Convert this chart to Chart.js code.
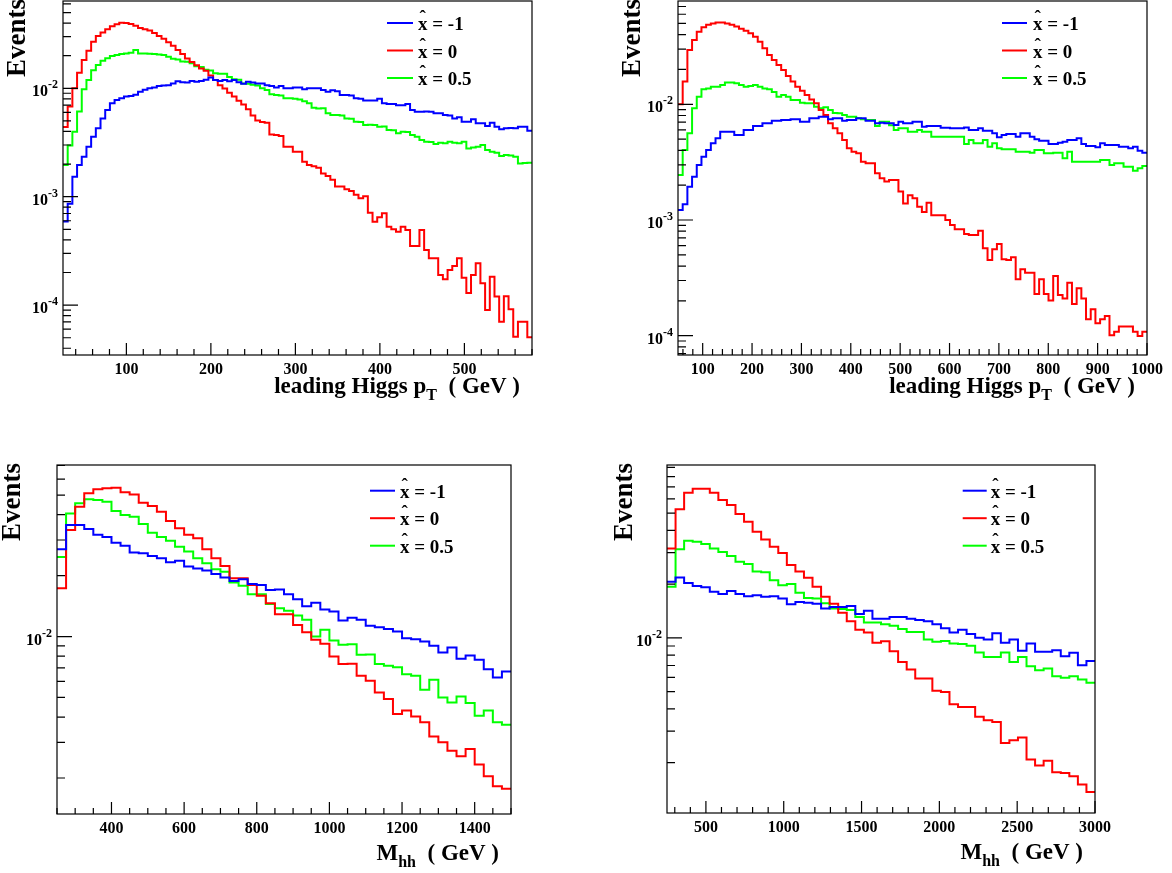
<!DOCTYPE html>
<html>
<head>
<meta charset="utf-8">
<title>Leading Higgs pT and Mhh</title>
<script src="https://cdn.jsdelivr.net/npm/chart.js@4.4.0/dist/chart.umd.min.js"></script>
<style>
  body { margin: 0; background: #fff; }
  #wrap { position: relative; width: 1172px; height: 873px; overflow: hidden; }
  canvas { position: absolute; }
</style>
</head>
<body>
<div id="wrap">
  <canvas id="c1" width="586" height="436" style="left:0px;top:0px"></canvas>
  <canvas id="c2" width="586" height="436" style="left:586px;top:0px"></canvas>
  <canvas id="c3" width="586" height="437" style="left:0px;top:436px"></canvas>
  <canvas id="c4" width="586" height="437" style="left:586px;top:436px"></canvas>
</div>
<script>
var SERIF = '"Liberation Serif", "DejaVu Serif", serif';

// legend text and line colours, same order in every plot
var xhatLabels = ['-1', '0', '0.5'];
var colours = ['#0000ff', '#ff0000', '#00ff00'];

// ---- leading Higgs pT, left plot (100 bins) ----
var pt1Range = [25, 580];
var pt1Blue = [5.9e-4, 8.6e-4, 1.53e-3, 1.96e-3, 2.34e-3, 2.89e-3, 3.58e-3, 4.28e-3, 5.28e-3, 6.3e-3,
  7.3e-3, 7.8e-3, 8.1e-3, 8.4e-3, 8.5e-3, 8.7e-3, 9.3e-3, 9.7e-3, 1.0e-2, 1.02e-2,
  1.05e-2, 1.06e-2, 1.07e-2, 1.11e-2, 1.16e-2, 1.14e-2, 1.13e-2, 1.17e-2, 1.15e-2, 1.17e-2,
  1.2e-2, 1.26e-2, 1.19e-2, 1.17e-2, 1.19e-2, 1.16e-2, 1.19e-2, 1.14e-2, 1.1e-2, 1.15e-2,
  1.13e-2, 1.11e-2, 1.11e-2, 1.07e-2, 1.05e-2, 1.02e-2, 1.05e-2, 1.0e-2, 1.0e-2, 1.02e-2,
  1.02e-2, 9.8e-3, 1.0e-2, 1.0e-2, 1.0e-2, 9.64e-3, 9.3e-3, 9.6e-3, 9.4e-3, 8.67e-3,
  8.67e-3, 8.6e-3, 8.09e-3, 8.0e-3, 7.7e-3, 7.7e-3, 7.7e-3, 8.0e-3, 7.28e-3, 7.16e-3,
  7.16e-3, 6.97e-3, 6.97e-3, 7.16e-3, 6.31e-3, 6.08e-3, 6.08e-3, 6.1e-3, 6.08e-3, 5.88e-3,
  5.88e-3, 5.67e-3, 5.6e-3, 5.28e-3, 5.4e-3, 4.92e-3, 4.92e-3, 5.18e-3, 4.76e-3, 4.76e-3,
  4.49e-3, 4.82e-3, 4.43e-3, 4.19e-3, 4.28e-3, 4.3e-3, 4.28e-3, 4.43e-3, 4.43e-3, 4.06e-3];
var pt1Red = [4.4e-3, 6.8e-3, 1.0e-2, 1.39e-2, 1.82e-2, 2.22e-2, 2.69e-2, 3.04e-2, 3.28e-2, 3.5e-2,
  3.73e-2, 3.9e-2, 4.03e-2, 4.0e-2, 3.93e-2, 3.78e-2, 3.6e-2, 3.5e-2, 3.41e-2, 3.24e-2,
  3.04e-2, 2.86e-2, 2.66e-2, 2.47e-2, 2.26e-2, 2.07e-2, 1.88e-2, 1.75e-2, 1.63e-2, 1.52e-2,
  1.45e-2, 1.31e-2, 1.19e-2, 1.07e-2, 9.97e-3, 9.1e-3, 8.4e-3, 7.66e-3, 7.1e-3, 6.4e-3,
  5.6e-3, 5.05e-3, 4.9e-3, 4.8e-3, 3.75e-3, 3.7e-3, 3.63e-3, 2.89e-3, 2.89e-3, 2.6e-3,
  2.6e-3, 2.1e-3, 1.96e-3, 1.91e-3, 1.85e-3, 1.64e-3, 1.55e-3, 1.43e-3, 1.24e-3, 1.24e-3,
  1.17e-3, 1.13e-3, 1.04e-3, 9.66e-4, 1.01e-3, 7.12e-4, 5.88e-4, 6.46e-4, 7.03e-4, 5.29e-4,
  5.0e-4, 4.75e-4, 5.29e-4, 4.93e-4, 3.51e-4, 3.51e-4, 4.93e-4, 3.22e-4, 2.7e-4, 2.7e-4,
  1.9e-4, 1.73e-4, 2.11e-4, 2.3e-4, 2.7e-4, 1.79e-4, 1.29e-4, 1.9e-4, 2.43e-4, 1.59e-4,
  9.0e-5, 1.83e-4, 1.2e-4, 7.03e-5, 1.21e-4, 9.14e-5, 5.1e-5, 7.03e-5, 7.03e-5, 5.05e-5];
var pt1Green = [1.96e-3, 2.96e-3, 3.98e-3, 6.1e-3, 9.8e-3, 1.19e-2, 1.47e-2, 1.64e-2, 1.8e-2, 1.89e-2,
  1.99e-2, 2.03e-2, 2.07e-2, 2.1e-2, 2.13e-2, 2.26e-2, 2.1e-2, 2.1e-2, 2.08e-2, 2.07e-2,
  2.05e-2, 2.03e-2, 1.96e-2, 1.87e-2, 1.84e-2, 1.77e-2, 1.76e-2, 1.7e-2, 1.6e-2, 1.57e-2,
  1.48e-2, 1.46e-2, 1.38e-2, 1.36e-2, 1.36e-2, 1.27e-2, 1.21e-2, 1.2e-2, 1.11e-2, 1.1e-2,
  1.08e-2, 1.06e-2, 1.0e-2, 9.64e-3, 8.8e-3, 8.67e-3, 8.6e-3, 8.1e-3, 8.1e-3, 8.0e-3,
  7.9e-3, 7.6e-3, 7.27e-3, 6.6e-3, 6.5e-3, 6.54e-3, 5.88e-3, 5.67e-3, 5.67e-3, 5.6e-3,
  5.28e-3, 5.25e-3, 4.92e-3, 4.9e-3, 4.58e-3, 4.6e-3, 4.58e-3, 4.43e-3, 4.45e-3, 4.12e-3,
  4.1e-3, 3.85e-3, 3.98e-3, 3.95e-3, 3.7e-3, 3.58e-3, 3.33e-3, 3.21e-3, 3.2e-3, 3.06e-3,
  3.15e-3, 3.12e-3, 3.21e-3, 3.15e-3, 3.12e-3, 3.21e-3, 2.79e-3, 2.85e-3, 2.89e-3, 3.0e-3,
  2.7e-3, 2.6e-3, 2.55e-3, 2.37e-3, 2.42e-3, 2.4e-3, 2.34e-3, 2.03e-3, 2.05e-3, 2.06e-3];

// ---- leading Higgs pT, right plot (100 bins) ----
var pt2Range = [50, 1000];
var pt2Blue = [1.22e-3, 1.37e-3, 1.94e-3, 2.37e-3, 2.99e-3, 3.52e-3, 4.03e-3, 4.6e-3, 5.08e-3, 5.8e-3,
  5.8e-3, 5.8e-3, 5.43e-3, 5.43e-3, 6.0e-3, 6.0e-3, 6.49e-3, 6.49e-3, 6.85e-3, 6.85e-3,
  7.22e-3, 7.22e-3, 7.32e-3, 7.32e-3, 7.42e-3, 7.42e-3, 7.08e-3, 7.08e-3, 7.57e-3, 7.57e-3,
  7.82e-3, 7.82e-3, 7.42e-3, 7.57e-3, 7.57e-3, 7.22e-3, 7.32e-3, 7.32e-3, 7.57e-3, 7.57e-3,
  7.22e-3, 7.22e-3, 6.85e-3, 6.93e-3, 6.85e-3, 6.85e-3, 6.62e-3, 7.08e-3, 6.85e-3, 6.85e-3,
  7.08e-3, 7.08e-3, 6.4e-3, 6.49e-3, 6.49e-3, 6.49e-3, 6.28e-3, 6.28e-3, 6.2e-3, 6.2e-3,
  6.2e-3, 6.3e-3, 6.0e-3, 6.0e-3, 6.2e-3, 5.91e-3, 5.91e-3, 5.61e-3, 5.19e-3, 5.43e-3,
  5.53e-3, 5.53e-3, 5.25e-3, 5.61e-3, 5.61e-3, 5.25e-3, 4.98e-3, 4.85e-3, 4.85e-3, 4.54e-3,
  4.54e-3, 4.66e-3, 4.75e-3, 4.91e-3, 4.91e-3, 5.08e-3, 4.54e-3, 4.36e-3, 4.36e-3, 4.25e-3,
  4.6e-3, 4.45e-3, 4.45e-3, 4.45e-3, 4.3e-3, 4.3e-3, 4.17e-3, 4.3e-3, 3.97e-3, 3.82e-3];
var pt2Red = [1.0e-2, 1.57e-2, 2.94e-2, 3.59e-2, 4.24e-2, 4.63e-2, 4.88e-2, 5.0e-2, 5.08e-2, 5.08e-2,
  5.0e-2, 4.88e-2, 4.7e-2, 4.5e-2, 4.33e-2, 4.11e-2, 3.84e-2, 3.47e-2, 3.05e-2, 2.67e-2,
  2.41e-2, 2.19e-2, 1.98e-2, 1.76e-2, 1.57e-2, 1.42e-2, 1.31e-2, 1.2e-2, 1.1e-2, 1.02e-2,
  8.93e-3, 8.08e-3, 6.85e-3, 6.2e-3, 5.61e-3, 4.92e-3, 4.17e-3, 3.89e-3, 3.77e-3, 3.19e-3,
  3.09e-3, 3.09e-3, 2.53e-3, 2.29e-3, 2.15e-3, 2.22e-3, 2.22e-3, 1.76e-3, 1.39e-3, 1.64e-3,
  1.54e-3, 1.3e-3, 1.17e-3, 1.41e-3, 1.1e-3, 1.1e-3, 1.1e-3, 1.0e-3, 9.05e-4, 8.31e-4,
  8.31e-4, 7.57e-4, 7.42e-4, 7.42e-4, 8.09e-4, 5.69e-4, 4.51e-4, 5.58e-4, 6.2e-4, 4.57e-4,
  4.51e-4, 4.76e-4, 3.07e-4, 3.75e-4, 3.5e-4, 3.5e-4, 2.29e-4, 3.07e-4, 2.29e-4, 2.01e-4,
  3.28e-4, 2.25e-4, 2.1e-4, 2.87e-4, 1.88e-4, 2.57e-4, 2.1e-4, 1.39e-4, 1.69e-4, 1.28e-4,
  1.39e-4, 1.48e-4, 1.01e-4, 1.08e-4, 1.2e-4, 1.2e-4, 1.2e-4, 1.08e-4, 9.94e-5, 1.08e-4];
var pt2Green = [2.45e-3, 4.03e-3, 5.61e-3, 9.23e-3, 1.16e-2, 1.35e-2, 1.37e-2, 1.42e-2, 1.42e-2, 1.47e-2,
  1.54e-2, 1.54e-2, 1.52e-2, 1.47e-2, 1.42e-2, 1.44e-2, 1.47e-2, 1.42e-2, 1.37e-2, 1.35e-2,
  1.28e-2, 1.16e-2, 1.2e-2, 1.16e-2, 1.09e-2, 1.09e-2, 1.03e-2, 1.02e-2, 1.02e-2, 9.53e-3,
  9.23e-3, 9.42e-3, 8.93e-3, 8.4e-3, 8.36e-3, 8.09e-3, 7.82e-3, 7.82e-3, 7.57e-3, 7.42e-3,
  7.32e-3, 7.32e-3, 6.49e-3, 7.08e-3, 7.08e-3, 6.6e-3, 6.0e-3, 6.2e-3, 6.2e-3, 5.8e-3,
  5.8e-3, 6.0e-3, 5.8e-3, 5.8e-3, 5.25e-3, 5.25e-3, 5.25e-3, 5.25e-3, 5.25e-3, 5.25e-3,
  5.25e-3, 4.54e-3, 4.91e-3, 4.6e-3, 4.6e-3, 4.91e-3, 4.3e-3, 4.6e-3, 4.17e-3, 4.08e-3,
  4.08e-3, 4.08e-3, 3.89e-3, 3.89e-3, 3.89e-3, 3.82e-3, 4.03e-3, 4.03e-3, 3.77e-3, 3.77e-3,
  3.82e-3, 3.82e-3, 3.41e-3, 3.89e-3, 3.19e-3, 3.19e-3, 3.19e-3, 3.19e-3, 3.19e-3, 3.19e-3,
  3.3e-3, 3.3e-3, 2.99e-3, 3.09e-3, 3.09e-3, 2.89e-3, 2.89e-3, 2.67e-3, 2.8e-3, 2.93e-3];

// ---- Mhh, left plot (50 bins) ----
var mhh1Range = [250, 1500];
var mhh1Blue = [2.7e-2, 3.56e-2, 3.56e-2, 3.4e-2, 3.18e-2, 3.1e-2, 2.91e-2, 2.81e-2, 2.6e-2, 2.58e-2,
  2.5e-2, 2.44e-2, 2.33e-2, 2.37e-2, 2.22e-2, 2.17e-2, 2.12e-2, 2.04e-2, 1.96e-2, 1.88e-2,
  1.92e-2, 1.82e-2, 1.8e-2, 1.7e-2, 1.71e-2, 1.62e-2, 1.53e-2, 1.41e-2, 1.47e-2, 1.36e-2,
  1.33e-2, 1.2e-2, 1.24e-2, 1.21e-2, 1.13e-2, 1.11e-2, 1.09e-2, 1.06e-2, 9.82e-3, 9.7e-3,
  9.45e-3, 9.0e-3, 8.34e-3, 8.83e-3, 7.76e-3, 8.05e-3, 7.67e-3, 6.9e-3, 6.28e-3, 6.72e-3];
var mhh1Red = [1.73e-2, 3.36e-2, 4.38e-2, 5.1e-2, 5.34e-2, 5.4e-2, 5.44e-2, 5.16e-2, 5.04e-2, 4.58e-2,
  4.42e-2, 4.14e-2, 3.72e-2, 3.43e-2, 3.18e-2, 3.06e-2, 2.7e-2, 2.44e-2, 2.23e-2, 1.94e-2,
  1.94e-2, 1.8e-2, 1.59e-2, 1.46e-2, 1.29e-2, 1.29e-2, 1.14e-2, 1.05e-2, 9.63e-3, 9.2e-3,
  7.97e-3, 7.31e-3, 7.33e-3, 6.4e-3, 6.04e-3, 5.29e-3, 4.91e-3, 4.14e-3, 4.31e-3, 4.03e-3,
  3.77e-3, 3.21e-3, 3.0e-3, 2.73e-3, 2.56e-3, 2.78e-3, 2.33e-3, 2.04e-3, 1.82e-3, 1.77e-3];
var mhh1Green = [2.47e-2, 4.06e-2, 4.55e-2, 4.77e-2, 4.73e-2, 4.64e-2, 4.17e-2, 3.99e-2, 3.91e-2, 3.6e-2,
  3.26e-2, 3.1e-2, 2.97e-2, 2.78e-2, 2.63e-2, 2.44e-2, 2.3e-2, 2.15e-2, 2.09e-2, 1.85e-2,
  1.78e-2, 1.62e-2, 1.62e-2, 1.45e-2, 1.38e-2, 1.34e-2, 1.27e-2, 1.21e-2, 1.0e-2, 1.08e-2,
  9.56e-3, 9.1e-3, 9.15e-3, 8.12e-3, 8.15e-3, 7.31e-3, 7.17e-3, 7.06e-3, 6.52e-3, 6.4e-3,
  5.46e-3, 6.11e-3, 5.0e-3, 4.72e-3, 5.06e-3, 4.69e-3, 4.06e-3, 4.31e-3, 3.77e-3, 3.67e-3];

// ---- Mhh, right plot (50 bins) ----
var mhh2Range = [250, 3000];
var mhh2Blue = [2.06e-2, 2.18e-2, 2.03e-2, 1.95e-2, 1.92e-2, 1.81e-2, 1.76e-2, 1.83e-2, 1.76e-2, 1.71e-2,
  1.73e-2, 1.7e-2, 1.71e-2, 1.66e-2, 1.54e-2, 1.59e-2, 1.57e-2, 1.55e-2, 1.46e-2, 1.49e-2,
  1.49e-2, 1.51e-2, 1.36e-2, 1.42e-2, 1.28e-2, 1.28e-2, 1.31e-2, 1.31e-2, 1.28e-2, 1.26e-2,
  1.24e-2, 1.19e-2, 1.13e-2, 1.07e-2, 1.11e-2, 1.05e-2, 1.0e-2, 9.79e-3, 1.06e-2, 9.38e-3,
  9.79e-3, 8.46e-3, 9.3e-3, 8.35e-3, 8.35e-3, 8.53e-3, 7.9e-3, 8.24e-3, 7.03e-3, 7.43e-3];
var mhh2Red = [3.17e-2, 5.25e-2, 6.5e-2, 6.84e-2, 6.84e-2, 6.5e-2, 5.91e-2, 5.55e-2, 4.94e-2, 4.47e-2,
  3.93e-2, 3.56e-2, 3.24e-2, 2.99e-2, 2.56e-2, 2.35e-2, 2.17e-2, 1.93e-2, 1.7e-2, 1.55e-2,
  1.38e-2, 1.24e-2, 1.11e-2, 1.07e-2, 9.38e-3, 9.58e-3, 8.42e-3, 7.33e-3, 6.65e-3, 5.92e-3,
  5.92e-3, 5.05e-3, 4.98e-3, 4.25e-3, 4.1e-3, 4.1e-3, 3.61e-3, 3.46e-3, 3.38e-3, 2.58e-3,
  2.67e-3, 2.77e-3, 2.08e-3, 1.93e-3, 2.05e-3, 1.77e-3, 1.75e-3, 1.68e-3, 1.51e-3, 1.37e-3];
var mhh2Green = [1.93e-2, 3.13e-2, 3.5e-2, 3.45e-2, 3.35e-2, 3.17e-2, 3.03e-2, 2.87e-2, 2.67e-2, 2.59e-2,
  2.35e-2, 2.33e-2, 2.1e-2, 1.97e-2, 2.0e-2, 1.79e-2, 1.67e-2, 1.66e-2, 1.56e-2, 1.46e-2,
  1.45e-2, 1.43e-2, 1.31e-2, 1.22e-2, 1.22e-2, 1.19e-2, 1.17e-2, 1.12e-2, 1.08e-2, 1.08e-2,
  9.79e-3, 9.5e-3, 9.6e-3, 9.3e-3, 9.25e-3, 9.02e-3, 8.28e-3, 7.8e-3, 7.8e-3, 8.28e-3,
  7.33e-3, 7.82e-3, 6.94e-3, 6.59e-3, 6.73e-3, 6.1e-3, 5.97e-3, 6.1e-3, 5.85e-3, 5.6e-3];

// labelled x ticks of each plot
var pt1Ticks = [100, 200, 300, 400, 500];
var pt2Ticks = [100, 200, 300, 400, 500, 600, 700, 800, 900, 1000];
var mhh1Ticks = [400, 600, 800, 1000, 1200, 1400];
var mhh2Ticks = [500, 1000, 1500, 2000, 2500, 3000];

// histogram -> points at left bin edges plus closing point, drawn with stepped lines
function histPoints(vals, range) {
  var w = (range[1] - range[0]) / vals.length;
  var pts = vals.map(function (v, i) { return { x: range[0] + i * w, y: v }; });
  pts.push({ x: range[1], y: vals[vals.length - 1] });
  return pts;
}

// ROOT look: frame, ticks pointing inwards, 10^n labels, titles, legend
var rootStyle = {
  id: 'rootStyle',
  afterDraw: function (chart, args, o) {
    var ctx = chart.ctx, a = chart.chartArea;
    var xs = chart.scales.x, ys = chart.scales.y;
    ctx.save();
    ctx.strokeStyle = '#000';
    ctx.fillStyle = '#000';
    ctx.lineWidth = 1.2;
    ctx.strokeRect(a.left, a.top, a.right - a.left, a.bottom - a.top);

    ctx.beginPath();
    var k0 = Math.ceil(xs.min / o.xMinor - 1e-6);
    for (var k = k0; k * o.xMinor <= xs.max + 1e-6; k++) {
      var v = k * o.xMinor;
      var px = xs.getPixelForValue(v);
      var len = (v % o.xMajor === 0) ? 12 : 6;
      ctx.moveTo(px, a.bottom);
      ctx.lineTo(px, a.bottom - len);
    }
    var decades = [];
    var e0 = Math.floor(Math.log10(ys.min)), e1 = Math.ceil(Math.log10(ys.max));
    for (var e = e0; e <= e1; e++) {
      for (var m = 1; m <= 9; m++) {
        var val = m * Math.pow(10, e);
        if (val < ys.min || val > ys.max) continue;
        var py = ys.getPixelForValue(val);
        ctx.moveTo(a.left, py);
        ctx.lineTo(a.left + (m === 1 ? 15 : 8), py);
        if (m === 1) decades.push([e, py]);
      }
    }
    ctx.stroke();

    // x labels
    ctx.font = 'bold 16px ' + SERIF;
    ctx.textAlign = 'center';
    ctx.textBaseline = 'alphabetic';
    o.xLabels.forEach(function (t) {
      ctx.fillText(String(t), xs.getPixelForValue(t), a.bottom + 19);
    });

    // y labels 10^n
    ctx.textAlign = 'left';
    decades.forEach(function (d) {
      var sup = String(d[0]);
      ctx.font = 'bold 12px ' + SERIF;
      var ws = ctx.measureText(sup).width;
      ctx.font = 'bold 16px ' + SERIF;
      var wb = ctx.measureText('10').width;
      var right = a.left - 5;
      ctx.fillText('10', right - ws - wb, d[1] + 8);
      ctx.font = 'bold 12px ' + SERIF;
      ctx.fillText(sup, right - ws, d[1]);
    });

    // y title
    ctx.save();
    ctx.font = 'bold 27px ' + SERIF;
    ctx.translate(a.left - o.yTitleDx, a.top - 2);
    ctx.rotate(-Math.PI / 2);
    ctx.textAlign = 'right';
    ctx.fillText('Events', 0, 0);
    ctx.restore();

    // x title with subscript
    var mainFont = 'bold 23px ' + SERIF, subFont = 'bold 16px ' + SERIF;
    var total = 0;
    o.xTitle.forEach(function (p) {
      ctx.font = p[1] ? subFont : mainFont;
      total += ctx.measureText(p[0]).width;
    });
    var tx = a.right - 12 - total, base = a.bottom + o.xTitleDy;
    o.xTitle.forEach(function (p) {
      ctx.font = p[1] ? subFont : mainFont;
      ctx.fillText(p[0], tx, base + (p[1] ? 7 : 0));
      tx += ctx.measureText(p[0]).width;
    });

    // legend
    var lg = o.legend;
    chart.data.datasets.forEach(function (ds, i) {
      var y = lg.y + i * 27.5;
      ctx.strokeStyle = ds.borderColor;
      ctx.lineWidth = 2;
      ctx.beginPath();
      ctx.moveTo(lg.x0, y);
      ctx.lineTo(lg.x1, y);
      ctx.stroke();
      ctx.font = 'bold 19px ' + SERIF;
      var bx = lg.tx, bb = y + 7;
      var wx = ctx.measureText('x').width;
      ctx.textAlign = 'left';
      ctx.fillText('x', bx, bb);
      ctx.textAlign = 'center';
      ctx.fillText('\u02C6', bx + wx / 2, bb - 7);
      ctx.textAlign = 'left';
      ctx.fillText(' = ' + ds.label, bx + wx, bb);
    });
    ctx.restore();
  }
};

function makePanel(id, p) {
  var series = [p.blue, p.red, p.green];
  new Chart(document.getElementById(id), {
    type: 'line',
    data: {
      datasets: series.map(function (vals, i) {
        return {
          label: xhatLabels[i],
          data: histPoints(vals, p.range),
          borderColor: colours[i],
          borderWidth: 2,
          stepped: true,
          pointRadius: 0,
          fill: false
        };
      })
    },
    options: {
      responsive: false,
      animation: false,
      events: [],
      layout: { padding: { top: p.top, right: p.right, left: 0, bottom: 0 } },
      plugins: {
        legend: { display: false },
        tooltip: { enabled: false },
        rootStyle: {
          xMinor: p.xMinor, xMajor: p.xMajor, xLabels: p.ticks,
          xTitle: p.xTitle, xTitleDy: p.xTitleDy, yTitleDx: p.yTitleDx,
          legend: p.legend
        }
      },
      scales: {
        x: {
          type: 'linear',
          min: p.range[0], max: p.range[1],
          bounds: 'data',
          grid: { display: false },
          border: { display: false },
          ticks: { display: false },
          afterFit: function (s) { s.height = p.bottom; }
        },
        y: {
          type: 'logarithmic',
          min: p.yRange[0], max: p.yRange[1],
          bounds: 'data',
          grid: { display: false },
          border: { display: false },
          ticks: { display: false },
          afterFit: function (s) { s.width = p.left; }
        }
      }
    },
    plugins: [rootStyle]
  });
}

var ptTitle = [['leading Higgs p', false], ['T', true], ['  ( GeV )', false]];
var mhhTitle = [['M', false], ['hh', true], ['  ( GeV )', false]];

makePanel('c1', {
  blue: pt1Blue, red: pt1Red, green: pt1Green, range: pt1Range, ticks: pt1Ticks,
  yRange: [3.465e-5, 0.0639], xMinor: 20, xMajor: 100,
  left: 63, top: 1, right: 54, bottom: 81,
  xTitle: ptTitle, xTitleDy: 38, yTitleDx: 38,
  legend: { x0: 387, x1: 413, tx: 418, y: 23 }
});
makePanel('c2', {
  blue: pt2Blue, red: pt2Red, green: pt2Green, range: pt2Range, ticks: pt2Ticks,
  yRange: [6.81e-5, 0.0781], xMinor: 20, xMajor: 100,
  left: 92, top: 1, right: 25, bottom: 81,
  xTitle: ptTitle, xTitleDy: 38, yTitleDx: 38,
  legend: { x0: 416, x1: 441, tx: 447, y: 23 }
});
makePanel('c3', {
  blue: mhh1Blue, red: mhh1Red, green: mhh1Green, range: mhh1Range, ticks: mhh1Ticks,
  yRange: [1.328e-3, 0.0704], xMinor: 50, xMajor: 200,
  left: 57, top: 29, right: 75, bottom: 59,
  xTitle: mhhTitle, xTitleDy: 46, yTitleDx: 37,
  legend: { x0: 370, x1: 395, tx: 400, y: 54.7 }
});
makePanel('c4', {
  blue: mhh2Blue, red: mhh2Red, green: mhh2Green, range: mhh2Range, ticks: mhh2Ticks,
  yRange: [1.045e-3, 0.0929], xMinor: 100, xMajor: 500,
  left: 81, top: 29, right: 77, bottom: 60,
  xTitle: mhhTitle, xTitleDy: 46, yTitleDx: 35,
  legend: { x0: 376.7, x1: 400.7, tx: 404.7, y: 54.7 }
});
</script>
</body>
</html>
